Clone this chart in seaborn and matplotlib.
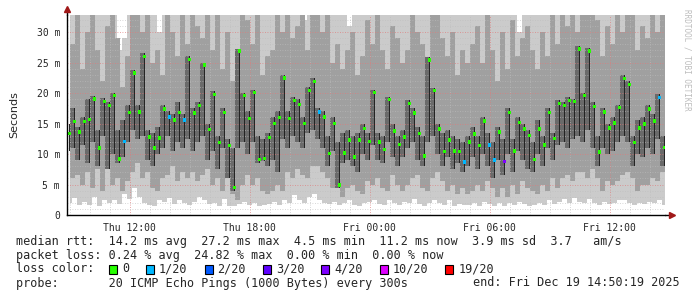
import numpy as np
import pandas as pd
import matplotlib
matplotlib.use("Agg")
import matplotlib.pyplot as plt
import matplotlib.dates as mdates
from matplotlib.patches import Rectangle
import seaborn as sns

# ---------------- data ----------------
times = pd.date_range("2025-12-18 09:00", periods=120, freq="15min")

median_ms = [
    13.4, 15.3, 13.6, 15.3, 15.7, 19.0, 11.0, 18.6, 18.0, 19.6,
    9.2, 12.1, 16.8, 23.3, 16.9, 26.0, 12.8, 11.0, 12.6, 17.4,
    16.1, 15.6, 16.8, 15.6, 25.5, 16.7, 18.0, 24.6, 14.0, 19.8,
    11.9, 16.8, 11.4, 4.5, 26.9, 19.6, 15.8, 20.1, 9.1, 9.3,
    12.7, 15.0, 16.0, 22.5, 15.8, 18.8, 18.1, 15.0, 20.4, 21.9,
    16.9, 16.1, 10.1, 15.0, 4.9, 10.2, 12.3, 9.5, 12.3, 14.2,
    12.1, 20.1, 12.0, 10.7, 18.9, 13.8, 11.6, 12.8, 18.3, 16.7,
    13.4, 9.7, 25.4, 20.4, 14.1, 10.4, 12.3, 10.5, 10.4, 8.7,
    12.0, 13.3, 11.4, 15.4, 11.5, 9.0, 13.6, 8.8, 16.8, 10.5,
    15.2, 14.1, 13.0, 9.1, 14.1, 11.5, 16.8, 12.5, 18.3, 18.0,
    18.8, 18.6, 27.2, 19.6, 26.9, 17.8, 10.3, 16.9, 14.3, 15.1,
    17.6, 22.4, 21.4, 11.9, 14.3, 14.9, 17.4, 15.4, 19.3, 11.1,
]

loss_count = [
    0, 0, 0, 0, 0, 0, 0, 0, 0, 0,
    0, 1, 0, 0, 0, 0, 0, 0, 0, 0,
    1, 0, 0, 1, 0, 0, 0, 0, 0, 0,
    0, 0, 0, 0, 0, 0, 0, 0, 0, 0,
    0, 0, 0, 0, 0, 0, 0, 0, 0, 0,
    1, 0, 0, 0, 0, 0, 0, 0, 0, 0,
    0, 0, 0, 0, 0, 0, 0, 0, 0, 0,
    0, 0, 0, 0, 0, 0, 0, 0, 0, 1,
    0, 0, 0, 0, 1, 1, 0, 4, 0, 0,
    0, 0, 0, 0, 0, 0, 0, 0, 0, 0,
    0, 0, 0, 0, 0, 0, 0, 0, 0, 0,
    0, 0, 0, 0, 0, 0, 0, 0, 1, 0,
]

# smoke: outer band (2nd lowest .. 2nd highest ping)
outer_lo = [
    2.0, 2.8, 1.6, 2.2, 1.7, 3.0, 1.5, 2.5, 2.0, 2.4,
    1.8, 3.5, 2.6, 4.5, 3.0, 2.0, 1.7, 1.5, 2.5, 2.2,
    2.8, 1.8, 2.5, 2.0, 1.6, 2.2, 3.0, 2.4, 1.8, 2.0,
    1.5, 2.6, 1.5, 1.4, 1.8, 2.2, 1.7, 2.0, 1.5, 1.6,
    1.8, 2.2, 1.6, 2.5, 2.0, 3.2, 2.4, 2.0, 3.0, 3.5,
    2.5, 2.0, 1.8, 2.2, 1.7, 2.0, 2.5, 1.6, 1.5, 2.0,
    2.2, 2.4, 1.8, 1.6, 2.5, 2.0, 1.7, 2.2, 2.0, 2.6,
    1.8, 1.5, 2.0, 2.5, 2.0, 1.6, 2.4, 1.5, 1.8, 1.6,
    1.7, 2.0, 1.5, 2.2, 1.8, 1.4, 1.9, 1.5, 2.0, 1.6,
    2.2, 1.8, 1.5, 1.6, 2.0, 1.7, 2.4, 1.8, 2.2, 2.6,
    2.0, 2.8, 2.2, 2.0, 2.6, 2.0, 1.6, 2.2, 1.8, 2.0,
    2.5, 2.4, 2.0, 1.6, 2.0, 1.8, 2.2, 2.0, 2.5, 1.7,
]
outer_hi = [
    40, 40, 40, 40, 40, 40, 34, 40, 40, 40,
    27, 29, 40, 40, 40, 40, 40, 40, 30, 40,
    40, 40, 40, 40, 40, 40, 40, 40, 40, 40,
    40, 40, 40, 40, 40, 40, 40, 40, 40, 40,
    40, 40, 40, 40, 40, 40, 40, 32, 40, 40,
    40, 40, 40, 40, 40, 40, 31, 40, 40, 40,
    40, 40, 40, 40, 40, 40, 40, 40, 40, 40,
    40, 40, 40, 40, 40, 40, 40, 40, 40, 40,
    40, 40, 40, 40, 40, 40, 40, 40, 40, 40,
    30, 40, 40, 40, 40, 40, 40, 40, 40, 40,
    40, 40, 40, 40, 40, 40, 40, 40, 40, 40,
    40, 40, 40, 40, 40, 40, 40, 40, 40, 40,
]
# smoke: middle band
mid_lo = [
    6.0, 6.5, 5.0, 7.0, 4.5, 7.5, 4.0, 8.0, 5.0, 6.0,
    4.0, 5.5, 7.0, 8.5, 6.0, 7.0, 4.5, 4.0, 6.0, 6.5,
    8.0, 5.5, 7.0, 6.0, 7.0, 5.5, 6.5, 7.5, 5.0, 6.0,
    4.0, 6.0, 3.5, 2.5, 5.0, 6.5, 5.0, 6.0, 4.0, 3.5,
    4.0, 5.0, 4.0, 7.0, 6.0, 7.5, 6.5, 6.0, 8.0, 8.0,
    7.0, 6.0, 4.5, 5.5, 3.0, 4.5, 5.0, 4.0, 3.5, 5.5,
    5.0, 6.0, 4.5, 4.0, 6.5, 5.0, 4.0, 5.0, 6.0, 6.5,
    4.5, 4.0, 6.0, 7.0, 5.5, 4.0, 5.0, 3.5, 4.5, 3.5,
    4.0, 5.0, 4.0, 5.5, 4.5, 3.0, 4.5, 3.0, 5.0, 3.5,
    5.5, 4.5, 4.0, 3.5, 5.0, 4.0, 6.0, 4.5, 6.0, 6.5,
    5.5, 7.0, 7.0, 6.0, 7.5, 6.0, 4.0, 5.5, 5.0, 5.5,
    6.5, 7.0, 6.0, 4.0, 5.0, 5.0, 6.0, 5.5, 7.0, 4.0,
]
mid_hi = [
    28, 33, 24, 30, 36, 27, 22, 31, 38, 29,
    21, 26, 33, 35, 30, 40, 25, 27, 23, 34,
    30, 26, 36, 28, 40, 31, 29, 40, 27, 33,
    24, 30, 22, 20, 40, 32, 28, 35, 23, 26,
    27, 33, 30, 38, 29, 31, 36, 27, 33, 40,
    30, 34, 25, 28, 24, 27, 30, 23, 26, 32,
    28, 35, 27, 24, 31, 29, 25, 27, 33, 30,
    28, 24, 40, 34, 29, 26, 30, 23, 27, 25,
    28, 31, 25, 33, 27, 22, 30, 24, 32, 26,
    29, 31, 27, 24, 30, 26, 33, 28, 35, 31,
    34, 30, 40, 36, 40, 32, 26, 31, 28, 33,
    30, 37, 34, 27, 31, 29, 33, 30, 35, 27,
]
# smoke: inner (darkest) band around the median
inner_lo = [
    10.5, 11.0, 9.0, 11.5, 8.5, 12.0, 8.0, 13.0, 7.5, 10.0,
    8.6, 9.5, 12.0, 14.0, 12.5, 13.0, 9.0, 8.0, 10.0, 11.0,
    13.0, 10.5, 12.0, 11.0, 12.5, 10.5, 12.0, 13.0, 9.0, 10.5,
    7.5, 11.0, 6.0, 4.0, 11.0, 12.0, 10.0, 12.0, 8.6, 8.8,
    8.0, 9.0, 7.0, 12.5, 11.0, 13.0, 12.0, 11.0, 13.5, 14.0,
    12.5, 11.0, 8.0, 10.5, 4.5, 8.5, 9.0, 8.0, 7.0, 10.0,
    9.0, 11.5, 9.0, 8.5, 12.0, 9.5, 8.0, 9.5, 11.0, 12.0,
    9.0, 8.0, 12.0, 13.0, 10.0, 8.0, 9.5, 7.5, 8.5, 7.0,
    8.0, 9.5, 7.5, 10.0, 8.0, 6.0, 9.0, 6.5, 10.0, 7.0,
    10.5, 9.0, 7.5, 7.0, 10.0, 8.0, 11.0, 9.0, 11.5, 12.0,
    11.0, 12.5, 13.0, 12.0, 14.0, 11.0, 8.0, 11.0, 10.0, 10.5,
    12.0, 13.0, 12.0, 8.0, 10.0, 9.5, 11.0, 10.0, 12.5, 8.0,
]
inner_hi = [
    15.0, 17.5, 14.5, 16.0, 19.0, 19.5, 14.0, 19.2, 18.5, 20.0,
    14.0, 15.5, 18.0, 23.8, 18.0, 26.5, 14.0, 13.5, 14.5, 18.0,
    17.0, 16.5, 18.5, 16.5, 26.0, 17.5, 18.5, 25.0, 15.0, 20.3,
    13.0, 17.5, 12.5, 11.0, 27.3, 20.0, 17.0, 20.5, 13.0, 12.5,
    13.5, 16.0, 17.0, 23.0, 17.0, 19.3, 19.0, 16.0, 21.0, 22.4,
    17.5, 17.0, 13.0, 16.0, 12.0, 13.5, 14.0, 13.0, 13.5, 15.0,
    13.5, 20.5, 13.5, 13.0, 19.4, 15.0, 13.0, 14.0, 18.8, 17.5,
    14.5, 13.0, 25.9, 20.9, 15.0, 13.5, 14.0, 13.0, 12.5, 12.0,
    13.0, 14.5, 13.0, 16.0, 13.5, 12.0, 14.5, 12.5, 17.5, 12.5,
    16.0, 15.0, 14.0, 12.0, 15.5, 13.0, 17.5, 13.5, 18.8, 18.5,
    19.3, 19.0, 27.7, 20.0, 27.4, 18.5, 13.0, 17.5, 15.0, 16.0,
    18.0, 22.9, 21.9, 13.0, 15.5, 16.0, 18.0, 16.5, 19.8, 13.0,
]

loss_labels = ["0", "1/20", "2/20", "3/20", "4/20", "10/20", "19/20"]
loss_thresholds = [0, 1, 2, 3, 4, 10, 19]
loss_colors = ["#26ff00", "#00b8ff", "#0059ff", "#5e00ff", "#7e00ff", "#dd00ff", "#ff0000"]

y_ticks = [0, 5, 10, 15, 20, 25, 30]
y_tick_labels = ["0", "5 m", "10 m", "15 m", "20 m", "25 m", "30 m"]

stats_lines = [
    "median rtt:  14.2 ms avg  27.2 ms max  4.5 ms min  11.2 ms now  3.9 ms sd  3.7   am/s",
    "packet loss: 0.24 % avg  24.82 % max  0.00 % min  0.00 % now",
]
probe_text = "probe:       20 ICMP Echo Pings (1000 Bytes) every 300s"
end_text = "end: Fri Dec 19 14:50:19 2025"

# ---------------- figure ----------------
sns.set_theme(style="white")
plt.rcParams["font.family"] = ["DejaVu Sans Mono", "DejaVu Sans"]

W, H = 697, 297
fig = plt.figure(figsize=(W / 100, H / 100), dpi=100)
fig.patch.set_facecolor("white")
ax = fig.add_axes([67 / W, 82 / H, 598 / W, 200 / H])
ax.set_facecolor("white")

x = mdates.date2num(times)
step = 1 / 96.0

# smoke bands, drawn with staggered steps so the column edges interleave
ax.fill_between(x, outer_lo, outer_hi, step="mid", color="#cbcbcb", lw=0, zorder=1)
ax.fill_between(x, mid_lo, mid_hi, step="post", color="#a0a0a0", lw=0, zorder=1.1)
ax.fill_between(x, inner_lo, inner_hi, step="pre", color="#6a6a6a", lw=0, zorder=1.2)
ax.bar(x, np.array(inner_hi) - np.array(inner_lo), bottom=inner_lo, width=step * 0.36,
       color="#242424", lw=0, zorder=1.3)

def loss_name(c):
    name = loss_labels[0]
    for t, lab in zip(loss_thresholds, loss_labels):
        if c >= t:
            name = lab
    return name

df = pd.DataFrame({"t": x, "median": median_ms,
                   "loss": [loss_name(c) for c in loss_count]})
sns.scatterplot(data=df, x="t", y="median", hue="loss",
                palette=dict(zip(loss_labels, loss_colors)), marker="s", s=6,
                linewidth=0, legend=False, ax=ax, zorder=4)

ax.set_xlim(mdates.date2num(pd.Timestamp("2025-12-18 08:52:30")),
            mdates.date2num(pd.Timestamp("2025-12-19 14:46:30")))
ax.set_ylim(0, 32.8)
ax.set_xlabel("")
ax.set_ylabel("Seconds", family="DejaVu Sans", fontsize=8)
ax.yaxis.set_label_coords(-48 / 598, 0.5)

ax.set_yticks(y_ticks)
ax.set_yticklabels(y_tick_labels)
ax.yaxis.set_minor_locator(matplotlib.ticker.MultipleLocator(1))
ax.xaxis.set_major_locator(mdates.HourLocator(byhour=[0, 6, 12, 18]))
ax.xaxis.set_major_formatter(mdates.DateFormatter("%a %H:%M"))
ax.xaxis.set_minor_locator(mdates.HourLocator())

ax.tick_params(axis="both", which="major", labelsize=7, length=2, width=0.8,
               color="#cc4444", pad=3, direction="out")
ax.tick_params(axis="both", which="minor", length=0)
ax.tick_params(axis="x", which="major", pad=4)

ax.set_axisbelow(False)
ax.grid(which="minor", color="#bdbdbd", ls=(0, (1, 2)), lw=0.6, alpha=0.8)
ax.grid(which="major", color="#e07a7a", ls=(0, (1, 2)), lw=0.6, alpha=0.9)

for s in ["top", "right"]:
    ax.spines[s].set_visible(False)
for s in ["left", "bottom"]:
    ax.spines[s].set_color("black")
    ax.spines[s].set_linewidth(1.0)
    ax.spines[s].set_zorder(5)

# axis extensions with arrowheads
ax.plot([0, 0], [1.0, 1.02], transform=ax.transAxes, color="black", lw=1, clip_on=False, zorder=5)
ax.plot([1.0, 1.008], [0, 0], transform=ax.transAxes, color="black", lw=1, clip_on=False, zorder=5)
ax.plot([0], [1.03], transform=ax.transAxes, marker="^", ms=4, color="#a01818",
        clip_on=False, zorder=6, lw=0)
ax.plot([1.012], [0], transform=ax.transAxes, marker=">", ms=4, color="#a01818",
        clip_on=False, zorder=6, lw=0)

# watermark
fig.text(687 / W, 1 - 60 / H, "RRDTOOL / TOBI OETIKER", rotation=270, color="#bdbdbd",
         fontsize=5.5, ha="center", va="center")

# bottom legend
fs = 8.5
for i, line in enumerate(stats_lines):
    fig.text(16 / W, 1 - (241 + 14 * i) / H, line, fontsize=fs, va="center", ha="left")
fig.text(16 / W, 1 - 269 / H, "loss color:", fontsize=fs, va="center", ha="left")
bx = 109.0
for lab, col in zip(loss_labels, loss_colors):
    fig.patches.append(Rectangle((bx / W, 1 - 274 / H), 8 / W, 9 / H, transform=fig.transFigure,
                                 facecolor=col, edgecolor="black", lw=0.8))
    fig.text((bx + 13) / W, 1 - 269 / H, lab, fontsize=fs, va="center", ha="left")
    bx += 13 + 7.1 * len(lab) + 17
fig.text(16 / W, 1 - 283 / H, probe_text, fontsize=fs, va="center", ha="left")
fig.text(680 / W, 1 - 283 / H, end_text, fontsize=fs, va="center", ha="right")

fig.savefig("out.png", dpi=100, facecolor="white")
